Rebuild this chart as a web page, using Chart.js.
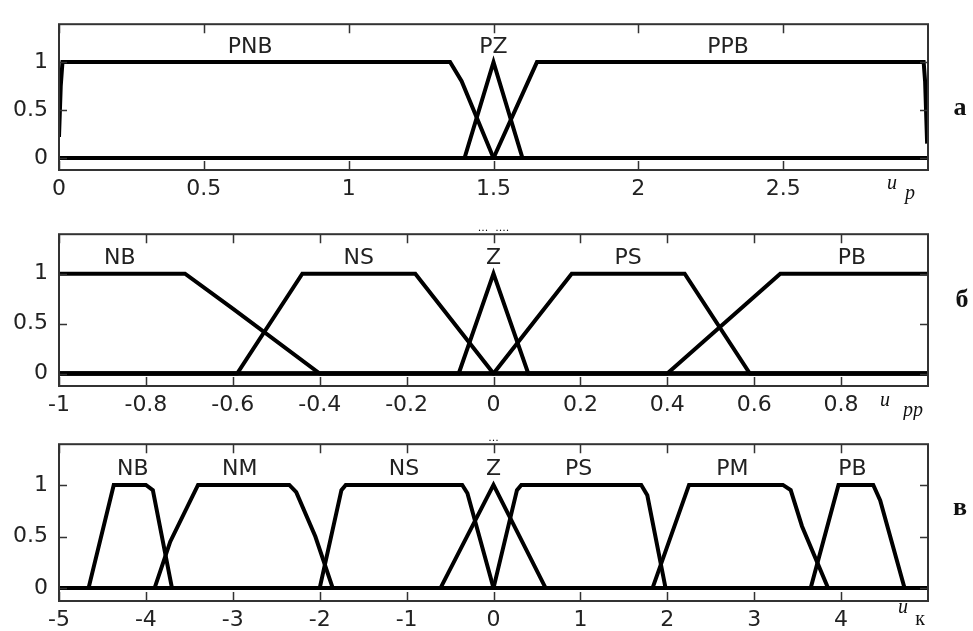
<!DOCTYPE html>
<html>
<head>
<meta charset="utf-8">
<script src="https://cdn.jsdelivr.net/npm/chart.js@4.4.0/dist/chart.umd.min.js"></script>
<style>
  html, body { margin: 0; padding: 0; background: #fff; }
  #wrap { position: relative; width: 973px; height: 631px; }
  canvas { position: absolute; left: 0; }
</style>
</head>
<body>
<div id="wrap">
  <canvas id="panelA" width="973" height="210" style="top:0px"></canvas>
  <canvas id="panelB" width="973" height="210" style="top:210px"></canvas>
  <canvas id="panelC" width="973" height="211" style="top:420px"></canvas>
</div>
<script>
// ---- shared ----
const yTicks = [0, 0.5, 1];

// ---- panel "а" (u_p) ----
const ticksA = [0, 0.5, 1, 1.5, 2, 2.5];
const namesA = ['PNB', 'PZ', 'PPB'];
const namePosA = [0.66, 1.5, 2.31];
const pnbA = [[0, 0.22], [0.006, 0.75], [0.012, 1], [1.35, 1], [1.39, 0.8], [1.5, 0], [3, 0]];
const pzA = [[0, 0], [1.4, 0], [1.5, 1], [1.6, 0], [3, 0]];
const ppbA = [[0, 0], [1.5, 0], [1.65, 1], [2.985, 1], [2.99, 0.8], [2.997, 0.15]];

// ---- panel "б" (u_pp) ----
const ticksB = [-1, -0.8, -0.6, -0.4, -0.2, 0, 0.2, 0.4, 0.6, 0.8];
const namesB = ['NB', 'NS', 'Z', 'PS', 'PB'];
const namePosB = [-0.86, -0.31, 0, 0.31, 0.825];
const nbB = [[-1, 1], [-0.71, 1], [-0.6, 0.65], [-0.4, 0], [1, 0]];
const nsB = [[-1, 0], [-0.59, 0], [-0.44, 1], [-0.18, 1], [0, 0], [1, 0]];
const zB = [[-1, 0], [-0.08, 0], [0, 1], [0.08, 0], [1, 0]];
const psB = [[-1, 0], [0, 0], [0.18, 1], [0.44, 1], [0.59, 0], [1, 0]];
const pbB = [[-1, 0], [0.4, 0], [0.66, 1], [1, 1]];

// ---- panel "в" (u_к) ----
const ticksC = [-5, -4, -3, -2, -1, 0, 1, 2, 3, 4];
const namesC = ['NB', 'NM', 'NS', 'Z', 'PS', 'PM', 'PB'];
const namePosC = [-4.15, -2.92, -1.03, 0, 0.98, 2.75, 4.13];
const nbC = [[-5, 0], [-4.66, 0], [-4.37, 1], [-4.0, 1], [-3.92, 0.95], [-3.7, 0], [5, 0]];
const nmC = [[-5, 0], [-3.9, 0], [-3.72, 0.45], [-3.4, 1], [-2.35, 1], [-2.27, 0.93], [-2.05, 0.5], [-1.85, 0], [5, 0]];
const nsC = [[-5, 0], [-2, 0], [-1.75, 0.95], [-1.7, 1], [-0.36, 1], [-0.3, 0.92], [0, 0], [5, 0]];
const zC = [[-5, 0], [-0.61, 0], [0, 1], [0.6, 0], [5, 0]];
const psC = [[-5, 0], [0, 0], [0.27, 0.95], [0.32, 1], [1.7, 1], [1.77, 0.9], [1.98, 0], [5, 0]];
const pmC = [[-5, 0], [1.83, 0], [2.25, 1], [3.33, 1], [3.42, 0.95], [3.55, 0.6], [3.85, 0], [5, 0]];
const pbC = [[-5, 0], [3.65, 0], [3.97, 1], [4.37, 1], [4.45, 0.85], [4.73, 0], [5, 0]];

const FONT = '"DejaVu Sans", sans-serif';

// frame, inner ticks, MF names, axis name and panel letter
const panelDeco = {
    id: 'panelDeco',
    afterDatasetsDraw(chart, args, o) {
        const ctx = chart.ctx;
        const a = chart.chartArea;
        const xs = chart.scales.x, ys = chart.scales.y;
        ctx.save();

        // names of the membership functions
        ctx.fillStyle = '#222';
        ctx.font = '22px ' + FONT;
        ctx.textAlign = 'center';
        ctx.textBaseline = 'middle';
        o.names.forEach(function (n, i) {
            ctx.fillText(n, xs.getPixelForValue(o.namePos[i]), ys.getPixelForValue(1.15));
        });

        // box
        ctx.strokeStyle = '#333';
        ctx.lineWidth = 2;
        ctx.strokeRect(a.left, a.top, a.right - a.left, a.bottom - a.top);

        // inner ticks
        ctx.lineWidth = 1.5;
        ctx.beginPath();
        o.xTicks.forEach(function (v) {
            const px = Math.round(xs.getPixelForValue(v)) + 0.5;
            ctx.moveTo(px, a.bottom); ctx.lineTo(px, a.bottom - 9);
            ctx.moveTo(px, a.top); ctx.lineTo(px, a.top + 9);
        });
        yTicks.forEach(function (v) {
            const py = Math.round(ys.getPixelForValue(v)) + 0.5;
            ctx.moveTo(a.left, py); ctx.lineTo(a.left + 8, py);
            ctx.moveTo(a.right, py); ctx.lineTo(a.right - 8, py);
        });
        ctx.stroke();

        // axis name u_...
        ctx.textAlign = 'center';
        ctx.font = 'italic 20px "Liberation Serif", serif';
        ctx.fillStyle = '#111';
        ctx.fillText('u', a.right + o.uPos[0], a.bottom + o.uPos[1]);
        ctx.font = (o.subItalic ? 'italic ' : '') + '20px "Liberation Serif", serif';
        ctx.fillText(o.sub, a.right + o.subPos[0], a.bottom + o.subPos[1]);

        // panel letter
        ctx.font = 'bold 26px "Liberation Serif", serif';
        ctx.fillText(o.letter, o.letterPos[0], o.letterPos[1]);

        // scan specks above the box
        if (o.specks) {
            ctx.font = '11px ' + FONT;
            ctx.fillText(o.specks, xs.getPixelForValue(0), a.top - 6);
        }
        ctx.restore();
    }
};

function makePanel(id, xMin, xMax, xTicks, series, deco, padTop, axisH) {
    const datasets = series.map(function (pts) {
        return {
            data: pts.map(function (p) { return { x: p[0], y: p[1] }; }),
            showLine: true,
            borderColor: '#000',
            borderWidth: 4,
            pointRadius: 0,
            tension: 0,
            fill: false
        };
    });
    return new Chart(document.getElementById(id), {
        type: 'scatter',
        data: { datasets: datasets },
        plugins: [panelDeco],
        options: {
            responsive: false,
            animation: false,
            layout: { padding: { left: 0, right: 45, top: padTop, bottom: 0 } },
            plugins: {
                legend: { display: false },
                tooltip: { enabled: false },
                panelDeco: deco
            },
            scales: {
                x: {
                    type: 'linear',
                    min: xMin,
                    max: xMax,
                    afterBuildTicks: function (s) { s.ticks = xTicks.map(function (v) { return { value: v }; }); },
                    afterFit: function (s) { s.height = axisH; },
                    grid: { display: false, drawTicks: false },
                    border: { display: false },
                    ticks: {
                        autoSkip: false,
                        maxRotation: 0,
                        padding: 6,
                        color: '#222',
                        font: { family: FONT, size: 22 },
                        callback: function (v) { return String(v); }
                    }
                },
                y: {
                    min: -0.125,
                    max: 1.395,
                    afterBuildTicks: function (s) { s.ticks = yTicks.map(function (v) { return { value: v }; }); },
                    afterFit: function (s) { s.width = 59; },
                    grid: { display: false, drawTicks: false },
                    border: { display: false },
                    ticks: {
                        padding: 11,
                        color: '#222',
                        font: { family: FONT, size: 22 },
                        callback: function (v) { return String(v); }
                    }
                }
            }
        }
    });
}

makePanel('panelA', 0, 3, ticksA, [pnbA, pzA, ppbA], {
    names: namesA, namePos: namePosA, xTicks: ticksA,
    sub: 'p', subItalic: true, uPos: [-36, 14], subPos: [-18, 24],
    letter: 'а', letterPos: [960, 108]
}, 9, 40);

makePanel('panelB', -1, 1, ticksB, [nbB, nsB, zB, psB, pbB], {
    names: namesB, namePos: namePosB, xTicks: ticksB,
    sub: 'pp', subItalic: true, uPos: [-43, 15], subPos: [-15, 25],
    letter: 'б', letterPos: [962, 90], specks: '...  ....'
}, 13, 34);

makePanel('panelC', -5, 5, ticksC, [nbC, nmC, nsC, zC, psC, pmC, pbC], {
    names: namesC, namePos: namePosC, xTicks: ticksC,
    sub: 'к', subItalic: false, uPos: [-25, 7], subPos: [-8, 19],
    letter: 'в', letterPos: [960, 88], specks: '...'
}, 19, 30);
</script>
</body>
</html>
